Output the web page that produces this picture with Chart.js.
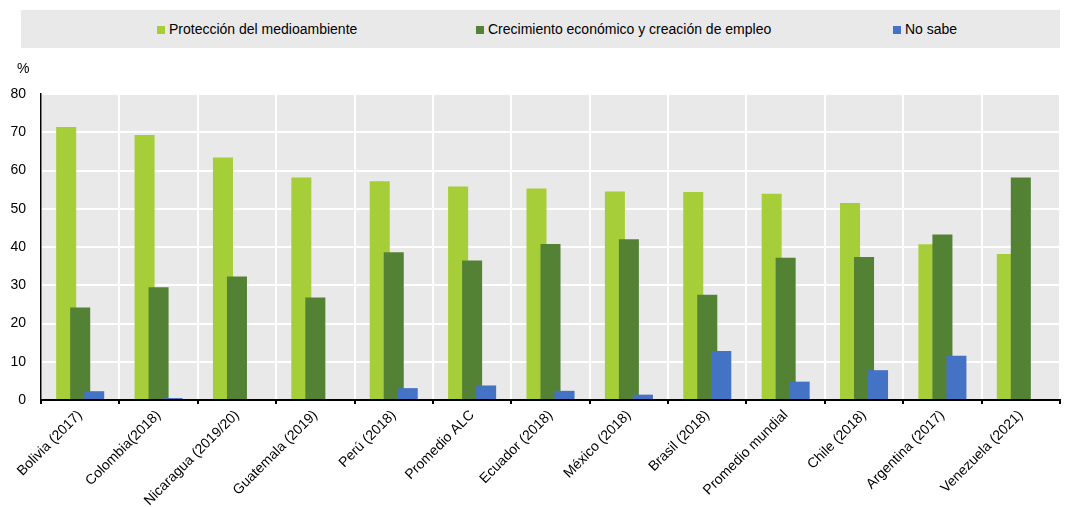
<!DOCTYPE html>
<html lang="es">
<head>
<meta charset="utf-8">
<script src="https://cdn.jsdelivr.net/npm/chart.js@4.4.1/dist/chart.umd.min.js"></script>
<style>
    body { margin: 0; background: #fff; font-family: "Liberation Sans", Arial, sans-serif; }
    #wrap { position: relative; width: 1065px; height: 507px; }
    #legend {
        position: absolute; left: 21px; top: 10px; width: 1039px; height: 38px;
        background: #e9e9e9;
    }
    .legend-item {
        position: absolute; top: 0; height: 38px; line-height: 38px;
        font-size: 14px; color: #000; white-space: nowrap;
    }
    .legend-item i {
        display: inline-block; width: 8px; height: 8px; margin-right: 4px;
        vertical-align: 0px;
    }
    #unit { position: absolute; left: 17px; top: 60px; font-size: 14px; color: #000; }
    canvas { position: absolute; left: 0; top: 0; }
</style>
</head>
<body>
<div id="wrap">
    <canvas id="chart" width="1065" height="507"></canvas>
    <div id="legend"></div>
    <div id="unit">%</div>
</div>
<script>
// Chart data
const categories = [
    'Bolivia (2017)', 'Colombia(2018)', 'Nicaragua (2019/20)', 'Guatemala (2019)',
    'Perú (2018)', 'Promedio ALC', 'Ecuador (2018)', 'México (2018)', 'Brasil (2018)',
    'Promedio mundial', 'Chile (2018)', 'Argentina (2017)', 'Venezuela (2021)'
];
const seriesNames = [
    'Protección del medioambiente',
    'Crecimiento económico y creación de empleo',
    'No sabe'
];
const proteccion = [71.4, 69.3, 63.4, 58.2, 57.2, 55.8, 55.3, 54.5, 54.4, 53.9, 51.5, 40.7, 38.2];
const crecimiento = [24.2, 29.5, 32.3, 26.8, 38.6, 36.5, 40.8, 42.0, 27.5, 37.2, 37.4, 43.3, 58.2];
const noSabe = [2.3, 0.5, null, null, 3.1, 3.8, 2.4, 1.4, 12.8, 4.8, 7.8, 11.6, null];
const yTicks = [0, 10, 20, 30, 40, 50, 60, 70, 80];

const colors = ['#a6ce39', '#548235', '#4472c4'];
const legendLeft = [136, 455, 872];

// Legend (html)
document.getElementById('legend').innerHTML = seriesNames.map((name, i) => `
    <div class="legend-item" style="left:${legendLeft[i]}px"><i style="background:${colors[i]}"></i>${name}</div>
`).join('');

// Grey plot background
const plotBackground = {
    id: 'plotBackground',
    beforeDraw(chart) {
        const { ctx, chartArea } = chart;
        ctx.save();
        ctx.fillStyle = '#e9e9e9';
        ctx.fillRect(chartArea.left, chartArea.top, chartArea.right - chartArea.left, chartArea.bottom - chartArea.top);
        ctx.restore();
    }
};

// Draw datasets first-to-last so each bar overlaps the previous one
const forwardDraw = {
    id: 'forwardDraw',
    beforeDatasetsDraw(chart) {
        const metas = chart.getSortedVisibleDatasetMetas
            ? chart.getSortedVisibleDatasetMetas()
            : chart._getSortedVisibleDatasetMetas();
        metas.forEach(meta => meta.controller.draw());
        return false;
    }
};

const font = { family: '"Liberation Sans", Arial, sans-serif', size: 14 };

new Chart(document.getElementById('chart'), {
    type: 'bar',
    data: {
        labels: categories,
        datasets: [proteccion, crecimiento, noSabe].map((data, i) => ({
            label: seriesNames[i],
            data: data,
            backgroundColor: colors[i],
            borderWidth: 0,
            categoryPercentage: 0.536,
            barPercentage: 1.43
        }))
    },
    options: {
        responsive: false,
        animation: false,
        layout: { padding: { top: 94, right: 5, left: 0, bottom: 0 } },
        plugins: {
            legend: { display: false },
            tooltip: { enabled: false }
        },
        scales: {
            x: {
                z: 1,
                grid: { color: '#ffffff', lineWidth: 2, tickColor: '#000', tickLength: 4, offset: true },
                border: { color: '#000', width: 2 },
                ticks: { color: '#000', font: font, minRotation: 45, maxRotation: 45, padding: 3, autoSkip: false },
                afterFit(scale) { scale.height = 107; }
            },
            y: {
                min: 0,
                max: 80,
                afterBuildTicks(scale) { scale.ticks = yTicks.map(v => ({ value: v })); },
                grid: { color: '#ffffff', lineWidth: 2, drawTicks: false },
                border: { color: '#000', width: 1.5 },
                ticks: { color: '#000', font: font, padding: 15 },
                afterFit(scale) { scale.width = 41; }
            }
        }
    },
    plugins: [plotBackground, forwardDraw]
});
</script>
</body>
</html>
